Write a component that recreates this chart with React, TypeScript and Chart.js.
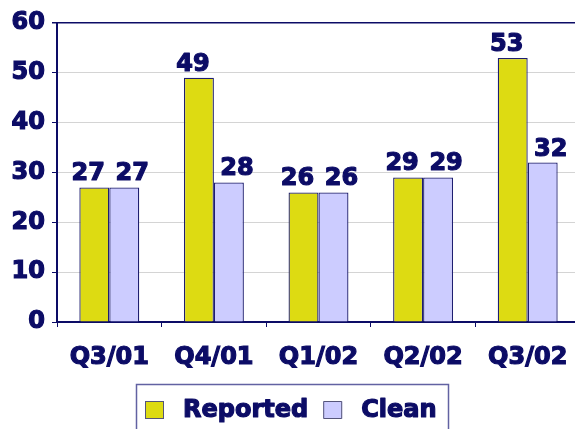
import React, { useEffect, useRef } from "react";
import { Chart, registerables } from "chart.js";

Chart.register(...registerables);

const categories = ["Q3/01", "Q4/01", "Q1/02", "Q2/02", "Q3/02"];
const reported = [27, 49, 26, 29, 53];
const clean = [27, 28, 26, 29, 32];
const seriesNames = ["Reported", "Clean"];
const yTicks = [0, 10, 20, 30, 40, 50, 60];

const NAVY = "#0c0c66";
const FONT = "'DejaVu Sans', Verdana, sans-serif";
const STROKE = 1.2;
const LABEL_SHIFT = [-6, 8];

const drawBoldText = (ctx: any, t: string, x: number, y: number) => {
  ctx.lineWidth = STROKE;
  ctx.strokeStyle = NAVY;
  ctx.lineJoin = "round";
  ctx.strokeText(t, x, y);
  ctx.fillText(t, x, y);
};

const valueLabels = {
  id: "valueLabels",
  afterDatasetsDraw(chart: any) {
    const ctx = chart.ctx;
    ctx.save();
    ctx.font = `bold 24px ${FONT}`;
    ctx.fillStyle = NAVY;
    ctx.textAlign = "center";
    ctx.textBaseline = "alphabetic";
    chart.data.datasets.forEach((ds: any, i: number) => {
      const meta = chart.getDatasetMeta(i);
      meta.data.forEach((bar: any, j: number) => {
        drawBoldText(ctx, String(ds.data[j]), bar.x + LABEL_SHIFT[i], bar.y - 7);
      });
    });
    ctx.restore();
  },
};

const boxedLegend = {
  id: "boxedLegend",
  afterDraw(chart: any) {
    const ctx = chart.ctx;
    ctx.save();
    ctx.strokeStyle = "#6262a2";
    ctx.lineWidth = 1.5;
    ctx.strokeRect(136.5, 384.5, 312, 60);
    ctx.font = `bold 24px ${FONT}`;
    ctx.textBaseline = "middle";
    ctx.textAlign = "left";
    let x = 145;
    const cy = 410;
    chart.data.datasets.forEach((ds: any) => {
      ctx.fillStyle = ds.backgroundColor;
      ctx.fillRect(x, cy - 9, 19, 18);
      ctx.strokeStyle = "#55557a";
      ctx.lineWidth = 1;
      ctx.strokeRect(x + 0.5, cy - 8.5, 18, 17);
      ctx.fillStyle = NAVY;
      const tx = x + 19 + 19;
      drawBoldText(ctx, ds.label, tx, cy + 1);
      x = tx + ctx.measureText(ds.label).width + 15;
    });
    ctx.restore();
  },
};

export default function App() {
  const ref = useRef<HTMLCanvasElement | null>(null);
  useEffect(() => {
    if (!ref.current) return;
    const chart = new Chart(ref.current, {
      type: "bar",
      data: {
        labels: categories,
        datasets: [
          {
            label: seriesNames[0],
            data: reported,
            backgroundColor: "#dddb12",
            borderColor: "#1e1e70",
            borderWidth: 1.3,
          },
          {
            label: seriesNames[1],
            data: clean,
            backgroundColor: "#ccccff",
            borderColor: "#1e1e70",
            borderWidth: 1.3,
          },
        ],
      },
      options: {
        animation: false,
        responsive: false,
        layout: { padding: { top: 23, bottom: 57, left: 0, right: 0 } },
        plugins: { legend: { display: false }, tooltip: { enabled: false } },
        datasets: { bar: { categoryPercentage: 0.573, barPercentage: 1 } },
        scales: {
          x: {
            afterFit: (s: any) => {
              s.height = 50;
              s.paddingLeft = 0;
              s.paddingRight = 0;
            },
            grid: {
              offset: true,
              drawOnChartArea: false,
              drawTicks: true,
              tickLength: 5,
              tickColor: NAVY,
            },
            border: { color: NAVY, width: 2 },
            ticks: {
              color: NAVY,
              font: { family: FONT, size: 24, weight: "bold" },
              padding: 16,
              maxRotation: 0,
              textStrokeColor: NAVY,
              textStrokeWidth: STROKE,
            },
          },
          y: {
            min: 0,
            max: 60,
            afterFit: (s: any) => {
              s.width = 57;
            },
            afterBuildTicks: (s: any) => {
              s.ticks = yTicks.map((v) => ({ value: v }));
            },
            grid: {
              color: (c: any) => (c.tick && c.tick.value === 60 ? NAVY : "#d4d4d4"),
              lineWidth: (c: any) => (c.tick && c.tick.value === 60 ? 1.5 : 1),
              tickColor: NAVY,
              tickLength: 5,
            },
            border: { color: NAVY, width: 2 },
            ticks: {
              color: NAVY,
              font: { family: FONT, size: 24, weight: "bold" },
              padding: 7,
              textStrokeColor: NAVY,
              textStrokeWidth: STROKE,
            },
          },
        },
      },
      plugins: [valueLabels, boxedLegend],
    });
    return () => chart.destroy();
  }, []);
  return (
    <div
      style={{
        position: "fixed",
        left: 0,
        top: 0,
        width: 575,
        height: 429,
        overflow: "hidden",
        background: "#fff",
      }}
    >
      <canvas ref={ref} width={580} height={429} style={{ display: "block" }} />
    </div>
  );
}
